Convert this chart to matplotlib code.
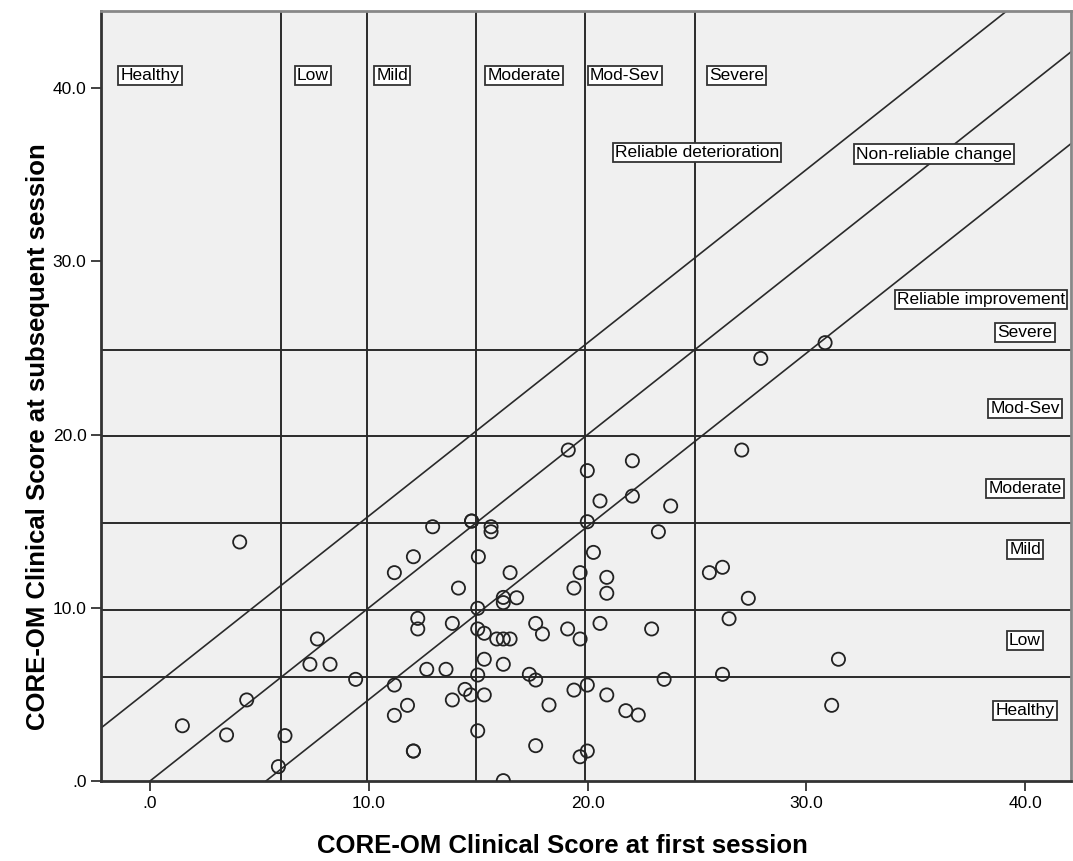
import matplotlib
matplotlib.use("Agg")
import matplotlib.pyplot as plt

plt.rcParams['font.family'] = ['Liberation Sans', 'DejaVu Sans']

# CORE-OM clinical scores, first session vs subsequent session
first_session = [
    11.17, 12.04, 12.24, 12.24, 7.65, 7.31, 8.23, 9.40, 11.17, 11.77,
    11.17, 12.04, 12.04, 4.42, 1.48, 3.50, 6.17, 5.87, 4.10,
    15.01, 16.46, 19.66, 20.88, 20.88, 19.38, 14.10, 25.57, 26.17,
    16.15, 16.15, 16.76, 14.98, 13.82, 14.98, 15.28, 15.85, 16.15, 16.46,
    17.63, 17.94, 19.09, 19.66, 20.57, 22.93, 26.47,
    12.65, 13.53, 15.28, 16.15, 14.98, 17.34, 17.63, 19.99, 19.38, 23.50,
    26.17, 14.40, 14.66, 15.28, 13.82, 18.24, 20.88, 21.75, 22.32,
    14.98, 17.63, 19.66, 19.99, 16.15,
    19.12, 22.05, 19.99, 20.57, 22.05, 23.80, 23.24, 19.99, 20.27,
    14.70, 14.70, 15.59, 15.59, 12.92,
    30.86, 27.92, 27.05, 27.35, 31.47, 31.16,
]
subsequent_session = [
    12.03, 12.95, 9.39, 8.78, 8.20, 6.74, 6.74, 5.87, 5.54, 4.37,
    3.79, 1.73, 1.73, 4.68, 3.19, 2.66, 2.62, 0.83, 13.80,
    12.95, 12.03, 12.03, 11.76, 10.84, 11.14, 11.14, 12.03, 12.34,
    10.60, 10.30, 10.58, 9.97, 9.10, 8.78, 8.53, 8.20, 8.20, 8.20,
    9.10, 8.49, 8.78, 8.20, 9.10, 8.78, 9.37,
    6.45, 6.45, 7.03, 6.74, 6.12, 6.16, 5.83, 5.54, 5.25, 5.87,
    6.16, 5.29, 4.97, 4.97, 4.68, 4.39, 4.97, 4.06, 3.81,
    2.90, 2.04, 1.40, 1.73, 0.02,
    19.11, 18.49, 17.92, 16.17, 16.45, 15.88, 14.39, 14.97, 13.20,
    15.01, 15.01, 14.68, 14.39, 14.68,
    25.31, 24.40, 19.11, 10.55, 7.03, 4.37,
]

# severity band cut-offs and reliable change index
cutoffs = [6.0, 9.9, 14.9, 19.9, 24.9]
rci = 5.3

band_names = ["Healthy", "Low", "Mild", "Moderate", "Mod-Sev", "Severe"]
top_label_x = [0.0, 7.45, 11.07, 17.1, 21.7, 26.8]
side_label_y = [4.05, 8.1, 13.35, 16.9, 21.5, 25.9]

xticks = [0, 10, 20, 30, 40]
xticklabels = [".0", "10.0", "20.0", "30.0", "40.0"]
yticks = [0, 10, 20, 30, 40]
yticklabels = [".0", "10.0", "20.0", "30.0", "40.0"]

fig = plt.figure(figsize=(10.73, 8.61), dpi=100)
ax = fig.add_axes([101 / 1073, 1 - 781 / 861, 970 / 1073, 770 / 861])
ax.set_facecolor("#f0f0f0")

xmin, xmax = -2.24, 42.1
ymin, ymax = 0.0, 44.46
line_kw = dict(color="#2a2a2a", lw=1.4, zorder=2)

for c in cutoffs:
    ax.axvline(c, **line_kw)
    ax.axhline(c, **line_kw)

# no-change line plus reliable change boundaries
for off in [rci, 0.0, -rci]:
    ax.plot([xmin, xmax], [xmin + off, xmax + off], color="#2a2a2a", lw=1.2, zorder=2)

ax.scatter(first_session, subsequent_session, s=90, facecolors="none",
           edgecolors="#222222", linewidths=1.3, zorder=3)

box = dict(boxstyle="square,pad=0.12", facecolor="white", edgecolor="#333333", lw=1.3)
txt_kw = dict(fontsize=12.5, ha="center", va="center", bbox=box, zorder=4)

for name, x in zip(band_names, top_label_x):
    ax.text(x, 40.75, name, **txt_kw)
for name, y in zip(band_names, side_label_y):
    ax.text(40.0, y, name, **txt_kw)

ax.text(25.0, 36.3, "Reliable deterioration", **txt_kw)
ax.text(35.85, 36.2, "Non-reliable change", **txt_kw)
ax.text(38.0, 27.8, "Reliable improvement", **txt_kw)

ax.set_xlim(xmin, xmax)
ax.set_ylim(ymin, ymax)
ax.set_xticks(xticks)
ax.set_xticklabels(xticklabels)
ax.set_yticks(yticks)
ax.set_yticklabels(yticklabels)
ax.tick_params(direction="out", length=7, width=1.3, colors="#333333",
               labelsize=12.5, labelcolor="black")

for side in ["left", "bottom"]:
    ax.spines[side].set_color("#333333")
    ax.spines[side].set_linewidth(2)
for side in ["top", "right"]:
    ax.spines[side].set_color("#888888")
    ax.spines[side].set_linewidth(2)

ax.set_xlabel("CORE-OM Clinical Score at first session", fontsize=18.5,
              fontweight="bold", labelpad=17)
ax.set_ylabel("CORE-OM Clinical Score at subsequent session", fontsize=18.5,
              fontweight="bold", labelpad=2)
ax.xaxis.label.set_x(0.476)
ax.yaxis.label.set_y(0.447)

fig.savefig("out.png", dpi=100)
